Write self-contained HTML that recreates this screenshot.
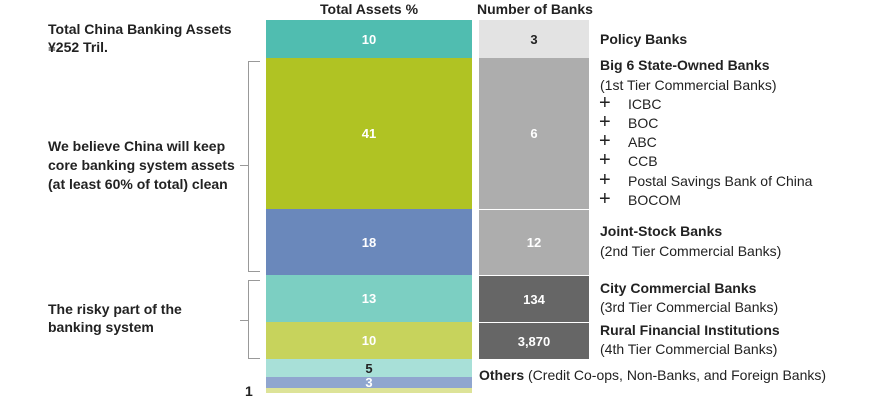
<!DOCTYPE html>
<html><head><meta charset="utf-8"><style>
body{margin:0;background:#fff;}
#c{position:relative;width:880px;height:403px;overflow:hidden;font-family:"Liberation Sans",sans-serif;color:#222;font-size:14px;}
.b{font-weight:bold;}
.bar{position:absolute;display:flex;align-items:center;justify-content:center;font-weight:bold;font-size:13px;color:#fff;}
.t{position:absolute;white-space:nowrap;line-height:19px;}
.p{position:absolute;white-space:nowrap;line-height:19px;font-size:20px;left:599px;}
.ln{position:absolute;background:#999;}
</style></head><body><div id="c">
<div class="t b" style="left:320px;top:0;font-size:14px">Total Assets %</div>
<div class="t b" style="left:477px;top:0;font-size:14px">Number of Banks</div>

<div class="bar" style="left:266px;width:206px;top:20px;height:38px;background:#50bdb0">10</div>
<div class="bar" style="left:266px;width:206px;top:58px;height:151px;background:#b0c323">41</div>
<div class="bar" style="left:266px;width:206px;top:209px;height:66px;background:#6a88bb">18</div>
<div class="bar" style="left:266px;width:206px;top:275px;height:47px;background:#7ccfc2">13</div>
<div class="bar" style="left:266px;width:206px;top:322px;height:37px;background:#c7d35c">10</div>
<div class="bar" style="left:266px;width:206px;top:359px;height:18px;background:#a8e0d8;color:#222">5</div>
<div class="bar" style="left:266px;width:206px;top:377px;height:11px;background:#90a6cf">3</div>
<div class="bar" style="left:266px;width:206px;top:388px;height:5px;background:#dde398"></div>

<div class="bar" style="left:479px;width:110px;top:20px;height:38px;background:#e3e3e3;color:#222">3</div>
<div class="bar" style="left:479px;width:110px;top:58px;height:151px;background:#adadad">6</div>
<div class="bar" style="left:479px;width:110px;top:210px;height:65px;background:#adadad">12</div>
<div class="bar" style="left:479px;width:110px;top:276px;height:46px;background:#666">134</div>
<div class="bar" style="left:479px;width:110px;top:323px;height:36px;background:#666">3,870</div>

<div class="t b" style="left:245px;top:382px">1</div>

<div class="t b" style="left:48px;top:20px">Total China Banking Assets</div>
<div class="t b" style="left:48px;top:38px">¥252 Tril.</div>
<div class="t b" style="left:48px;top:137px">We believe China will keep</div>
<div class="t b" style="left:48px;top:156px">core banking system assets</div>
<div class="t b" style="left:48px;top:175px">(at least 60% of total) clean</div>
<div class="t b" style="left:48px;top:300px">The risky part of the</div>
<div class="t b" style="left:48px;top:318px">banking system</div>

<div class="ln" style="left:248px;top:61px;width:1px;height:211px"></div>
<div class="ln" style="left:248px;top:61px;width:12px;height:1px"></div>
<div class="ln" style="left:248px;top:271px;width:12px;height:1px"></div>
<div class="ln" style="left:240px;top:165px;width:8px;height:1px"></div>
<div class="ln" style="left:248px;top:280px;width:1px;height:78px"></div>
<div class="ln" style="left:248px;top:280px;width:12px;height:1px"></div>
<div class="ln" style="left:248px;top:358px;width:12px;height:1px"></div>
<div class="ln" style="left:240px;top:320px;width:8px;height:1px"></div>

<div class="t b" style="left:600px;top:30px">Policy Banks</div>
<div class="t b" style="left:600px;top:56px">Big 6 State-Owned Banks</div>
<div class="t" style="left:600px;top:76px">(1st Tier Commercial Banks)</div>
<div class="p" style="top:94px">+</div><div class="t" style="left:628px;top:95px">ICBC</div>
<div class="p" style="top:113px">+</div><div class="t" style="left:628px;top:114px">BOC</div>
<div class="p" style="top:132px">+</div><div class="t" style="left:628px;top:133px">ABC</div>
<div class="p" style="top:151px">+</div><div class="t" style="left:628px;top:152px">CCB</div>
<div class="p" style="top:171px">+</div><div class="t" style="left:628px;top:172px">Postal Savings Bank of China</div>
<div class="p" style="top:190px">+</div><div class="t" style="left:628px;top:191px">BOCOM</div>
<div class="t b" style="left:600px;top:222px">Joint-Stock Banks</div>
<div class="t" style="left:600px;top:242px">(2nd Tier Commercial Banks)</div>
<div class="t b" style="left:600px;top:279px">City Commercial Banks</div>
<div class="t" style="left:600px;top:298px">(3rd Tier Commercial Banks)</div>
<div class="t b" style="left:600px;top:321px">Rural Financial Institutions</div>
<div class="t" style="left:600px;top:340px">(4th Tier Commercial Banks)</div>
<div class="t" style="left:479px;top:366px"><b>Others</b> (Credit Co-ops, Non-Banks, and Foreign Banks)</div>
</div></body></html>
